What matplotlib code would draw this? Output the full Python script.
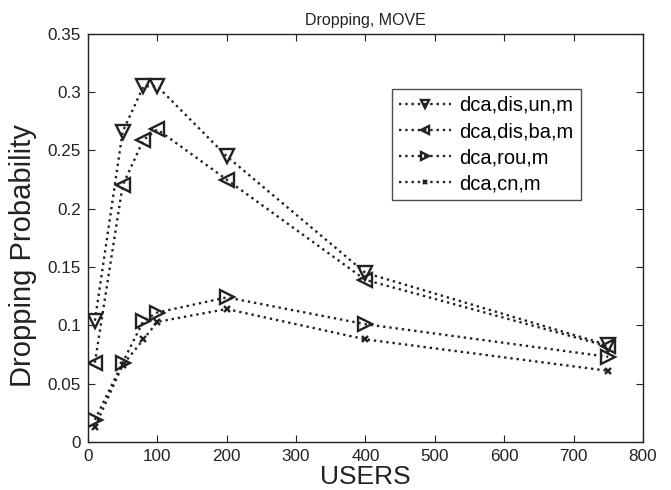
import matplotlib
matplotlib.use("Agg")
import matplotlib.pyplot as plt

plt.rcParams["font.family"] = ["Liberation Sans", "DejaVu Sans"]

# ------------------------------------------------
# DATA
# ------------------------------------------------

users = [10, 50, 80, 100, 200, 400, 750]

dis_un = [0.104, 0.266, 0.305, 0.305, 0.245, 0.145, 0.083]
dis_ba = [0.068, 0.220, 0.259, 0.268, 0.225, 0.139, 0.082]
rou = [0.019, 0.068, 0.104, 0.111, 0.124, 0.101, 0.073]
cn = [0.013, 0.066, 0.088, 0.103, 0.114, 0.088, 0.061]

labels = ["dca,dis,un,m", "dca,dis,ba,m", "dca,rou,m", "dca,cn,m"]

x_ticks = [0, 100, 200, 300, 400, 500, 600, 700, 800]
y_ticks = [0, 0.05, 0.1, 0.15, 0.2, 0.25, 0.3, 0.35]
y_tick_labels = ["0", "0.05", "0.1", "0.15", "0.2", "0.25", "0.3", "0.35"]

# ------------------------------------------------
# PLOT
# ------------------------------------------------

fig = plt.figure(figsize=(6.71, 4.90), dpi=100)
ax = fig.add_axes([0.1311, 0.098, 0.827, 0.833])

line_kw = dict(color="#222222", linestyle=":", linewidth=1.7,
               markerfacecolor="none", markeredgewidth=1.7)

ax.plot(users, dis_un, marker="v", markersize=10, label=labels[0], **line_kw)
ax.plot(users, dis_ba, marker="<", markersize=10, label=labels[1], **line_kw)
ax.plot(users, rou, marker=">", markersize=10, label=labels[2], **line_kw)
ax.plot(users, cn, marker="x", markersize=4, label=labels[3], **line_kw)

ax.set_xlim(0, 800)
ax.set_ylim(0, 0.35)
ax.set_xticks(x_ticks)
ax.set_yticks(y_ticks)
ax.set_yticklabels(y_tick_labels)

ax.tick_params(direction="in", top=True, right=True, labelsize=12.3,
               length=5, colors="#222222", pad=5)
for spine in ax.spines.values():
    spine.set_linewidth(1.0)
    spine.set_color("#222222")

ax.set_title("Dropping, MOVE", fontsize=11.5, pad=6, color="#222222")
ax.set_xlabel("USERS", fontsize=19, labelpad=1, color="#222222")
ax.set_ylabel("Dropping Probability", fontsize=21, color="#222222")
ax.yaxis.set_label_coords(-0.092, 0.456)

leg = ax.legend(loc="upper left", bbox_to_anchor=(0.548, 0.865),
                borderaxespad=0, fontsize=14.5, frameon=True, fancybox=False,
                edgecolor="#222222", handlelength=2.6, borderpad=0.35,
                labelspacing=0.35, handletextpad=0.4, markerscale=0.6)
leg.get_frame().set_linewidth(1.0)

plt.savefig("out.png", dpi=100)
plt.close()
